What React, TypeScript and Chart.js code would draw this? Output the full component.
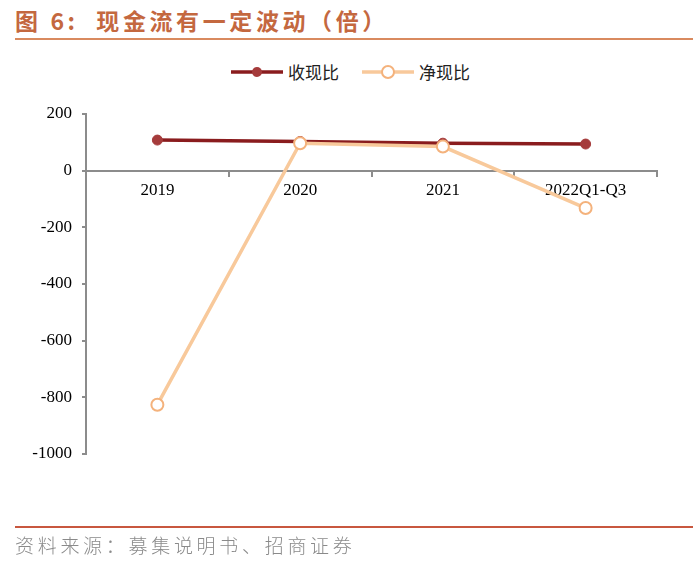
import React, { useEffect, useRef } from "react";
import { Chart, registerables } from "chart.js";

Chart.register(...registerables);

const categories = ["2019", "2020", "2021", "2022Q1-Q3"];
const cashCollectionRatio = [108, 103, 97, 94]; // 收现比
const netCashRatio = [-826, 97, 85, -132]; // 净现比
const seriesNames = ["收现比", "净现比"];
const yMin = -1000;
const yMax = 200;
const yStep = 200;

const titleText = "图 6:  现金流有一定波动（倍）";
const sourceText = "资料来源：募集说明书、招商证券";

const DARK_LINE = "#8A1C1E";
const DARK_POINT = "#A53B3B";
const LIGHT_LINE = "#F8C99B";
const LIGHT_POINT = "#F4B27C";
const AXIS = "#8C8C8C";

export default function App() {
  const canvasRef = useRef<HTMLCanvasElement | null>(null);

  useEffect(() => {
    document.body.style.margin = "0";
    const canvas = canvasRef.current;
    if (!canvas) return;
    const tickFont = { family: "'Liberation Serif', 'Times New Roman', serif", size: 17 };
    const chart = new Chart(canvas, {
      type: "line",
      data: {
        labels: categories,
        datasets: [
          {
            label: seriesNames[0],
            data: cashCollectionRatio,
            borderColor: DARK_LINE,
            borderWidth: 3.5,
            pointRadius: 5,
            pointBackgroundColor: DARK_POINT,
            pointBorderColor: DARK_POINT,
            pointBorderWidth: 1,
            tension: 0,
            order: 2,
          },
          {
            label: seriesNames[1],
            data: netCashRatio,
            borderColor: LIGHT_LINE,
            borderWidth: 3.5,
            pointRadius: 6,
            pointBackgroundColor: "#FFFFFF",
            pointBorderColor: LIGHT_POINT,
            pointBorderWidth: 2,
            tension: 0,
            order: 1,
          },
        ],
      },
      options: {
        animation: false,
        responsive: false,
        maintainAspectRatio: false,
        layout: { padding: { top: 114, bottom: 109, left: 0, right: 43 } },
        plugins: {
          legend: { display: false },
          tooltip: { enabled: false },
          title: { display: false },
        },
        scales: {
          x: {
            type: "category",
            position: { y: 0 } as any,
            offset: true,
            grid: {
              display: true,
              drawOnChartArea: false,
              offset: true,
              tickLength: 5,
              color: AXIS,
              lineWidth: 2,
            },
            border: { display: true, color: AXIS, width: 2 },
            ticks: {
              font: tickFont,
              color: "#000",
              padding: 5,
              maxRotation: 0,
              autoSkip: false,
            },
          },
          y: {
            min: yMin,
            max: yMax,
            grid: {
              display: true,
              drawOnChartArea: false,
              tickLength: 4,
              color: AXIS,
              lineWidth: 2,
            },
            border: { display: true, color: AXIS, width: 2 },
            ticks: {
              stepSize: yStep,
              font: tickFont,
              color: "#000",
              padding: 10,
              callback: (v: any) => String(v),
            },
            afterFit: (scale: any) => {
              scale.width = 86;
            },
          },
        },
      },
    });
    return () => chart.destroy();
  }, []);

  const legendText: React.CSSProperties = {
    fontFamily: "'Noto Sans CJK SC', sans-serif",
    fontSize: 17,
    color: "#222",
    lineHeight: "20px",
  };

  return (
    <div style={{ position: "relative", width: 700, height: 563, background: "#fff", overflow: "hidden" }}>
      <div
        style={{
          position: "absolute",
          left: 15,
          top: 4,
          fontFamily: "'Noto Sans CJK SC', sans-serif",
          fontWeight: 700,
          fontSize: 23,
          letterSpacing: 3.6,
          color: "#C4683F",
          lineHeight: "32px",
          whiteSpace: "pre",
        }}
      >
        {titleText}
      </div>
      <div style={{ position: "absolute", left: 15, top: 38, width: 678, height: 2, background: "#D98A5F" }} />
      <div
        style={{
          position: "absolute",
          left: 0,
          top: 62,
          width: 700,
          display: "flex",
          justifyContent: "center",
          alignItems: "center",
        }}
      >
        <div style={{ display: "flex", alignItems: "center", marginLeft: 0 }}>
          <svg width="54" height="20" style={{ display: "block" }}>
            <line x1="1" y1="10" x2="53" y2="10" stroke={DARK_LINE} strokeWidth="3.5" />
            <circle cx="27" cy="10" r="5" fill={DARK_POINT} />
          </svg>
          <span style={{ ...legendText, marginLeft: 4 }}>{seriesNames[0]}</span>
        </div>
        <div style={{ display: "flex", alignItems: "center", marginLeft: 22 }}>
          <svg width="54" height="20" style={{ display: "block" }}>
            <line x1="1" y1="10" x2="53" y2="10" stroke={LIGHT_LINE} strokeWidth="3.5" />
            <circle cx="27" cy="10" r="6" fill="#fff" stroke={LIGHT_POINT} strokeWidth="2" />
          </svg>
          <span style={{ ...legendText, marginLeft: 4 }}>{seriesNames[1]}</span>
        </div>
      </div>
      <canvas ref={canvasRef} width={700} height={563} style={{ position: "absolute", left: 0, top: 0 }} />
      <div style={{ position: "absolute", left: 15, top: 526, width: 678, height: 2, background: "#C8573F" }} />
      <div
        style={{
          position: "absolute",
          left: 15,
          top: 531,
          fontFamily: "'Noto Sans CJK SC', sans-serif",
          fontWeight: 300,
          fontSize: 19,
          letterSpacing: 3.7,
          color: "#8A8A8A",
          lineHeight: "28px",
          whiteSpace: "pre",
        }}
      >
        {sourceText}
      </div>
    </div>
  );
}
